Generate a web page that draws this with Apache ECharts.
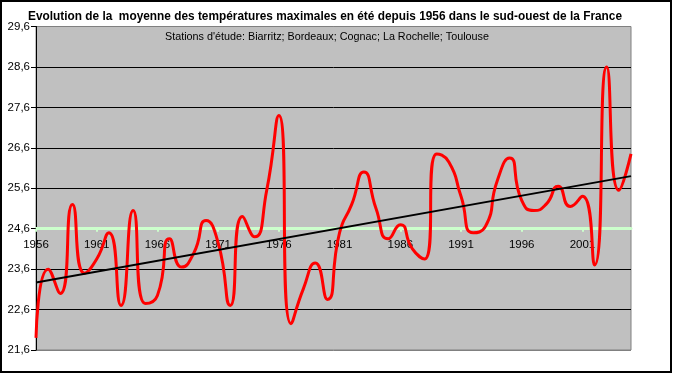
<!DOCTYPE html>
<html>
<head>
<meta charset="utf-8">
<script src="https://cdn.jsdelivr.net/npm/echarts@6/dist/echarts.min.js"></script>
<style>
html,body{margin:0;padding:0;background:#fff;}
#chart{width:673px;height:374px;}
</style>
</head>
<body>
<div id="chart"></div>
<script>
var years = [];
for (var y = 1956; y <= 2005; y++) years.push(String(y));

var tmax = [
  21.9, 23.6, 23.0, 25.2, 23.5, 23.85, 24.5, 22.7, 25.05, 22.75,
  22.95, 24.35, 23.65, 24.0, 24.8, 24.25, 22.7, 24.9, 24.4, 25.55,
  27.4, 22.25, 23.1, 23.75, 22.85, 24.5, 25.2, 26.0, 25.1, 24.35,
  24.7, 24.1, 23.85, 26.45, 26.25, 25.4, 24.5, 24.65, 25.8, 26.35,
  25.3, 25.05, 25.2, 25.65, 25.15, 25.4, 23.7, 28.6, 25.55, 26.45
];

var trendEnds = [23.27, 25.9];

var yMin = 21.6, yMax = 29.6, yStep = 1, xCross = 24.6;

var titleText = "Evolution de la  moyenne des températures maximales en été depuis 1956 dans le sud-ouest de la France";
var subText = "Stations d'étude: Biarritz; Bordeaux; Cognac; La Rochelle; Toulouse";

var FONT = '"Liberation Sans", Arial, sans-serif';
var gridTop = 26.5, gridBottom = 24, gridLeft = 36, gridRight = 42;
var gridH = 374 - gridTop - gridBottom;

function measure(text, font) {
  var c = document.createElement('canvas').getContext('2d');
  c.font = font;
  return c.measureText(text).width;
}
var titleFont = 'bold 13px "Liberation Sans", Arial, sans-serif';
var subFont = '11px "Liberation Sans", Arial, sans-serif';
var titleScale = 594 / measure(titleText, titleFont);
var subScale = 324 / measure(subText, subFont);

var chart = echarts.init(document.getElementById('chart'), null, {renderer: 'canvas'});
chart.setOption({
  animation: false,
  backgroundColor: '#ffffff',
  graphic: [
    {type: 'rect', shape: {x: 1, y: 1, width: 670, height: 371},
     style: {fill: null, stroke: '#000', lineWidth: 2}, z: 100, silent: true},
    {type: 'text', x: 325, y: 16, scaleX: titleScale, z: 100,
     style: {text: titleText, font: titleFont, fill: '#000', textAlign: 'center', textVerticalAlign: 'middle'}},
    {type: 'text', x: 327, y: 37, scaleX: subScale, z: 100,
     style: {text: subText, font: subFont, fill: '#000', textAlign: 'center', textVerticalAlign: 'middle'}}
  ],
  grid: {left: gridLeft, right: gridRight, top: gridTop, bottom: gridBottom,
         show: true, backgroundColor: '#c0c0c0', borderColor: '#808080', borderWidth: 1},
  xAxis: {
    type: 'category', data: years, boundaryGap: false,
    position: 'bottom',
    offset: -(xCross - yMin) / (yMax - yMin) * gridH,
    axisLine: {show: true, lineStyle: {color: '#ccffcc', width: 3}},
    axisTick: {show: true, interval: 4, length: 3, lineStyle: {color: '#ccffcc', width: 2}},
    axisLabel: {interval: 4, margin: 10, color: '#000', fontFamily: FONT, fontSize: 11.5},
    splitLine: {show: false}
  },
  yAxis: {
    type: 'value', min: yMin, max: yMax, interval: yStep,
    axisLine: {show: true, lineStyle: {color: '#000', width: 1}},
    axisTick: {show: true, length: 5, lineStyle: {color: '#000'}},
    axisLabel: {margin: 6, color: '#000', fontFamily: FONT, fontSize: 11.5,
                formatter: function (v) { return v.toFixed(1).replace('.', ','); }},
    splitLine: {show: true, lineStyle: {color: ['#808080', '#000', '#000', '#000', '#000', '#000', '#000', '#000', '#808080'], width: 1}}
  },
  series: [
    {type: 'line', data: tmax, smooth: 0.6, showSymbol: false, symbol: 'none',
     lineStyle: {color: '#ff0000', width: 3}, z: 3},
    {type: 'line', data: [[years[0], trendEnds[0]], [years[years.length - 1], trendEnds[1]]],
     showSymbol: false, symbol: 'none', lineStyle: {color: '#000', width: 2}, z: 4}
  ]
});
</script>
</body>
</html>
